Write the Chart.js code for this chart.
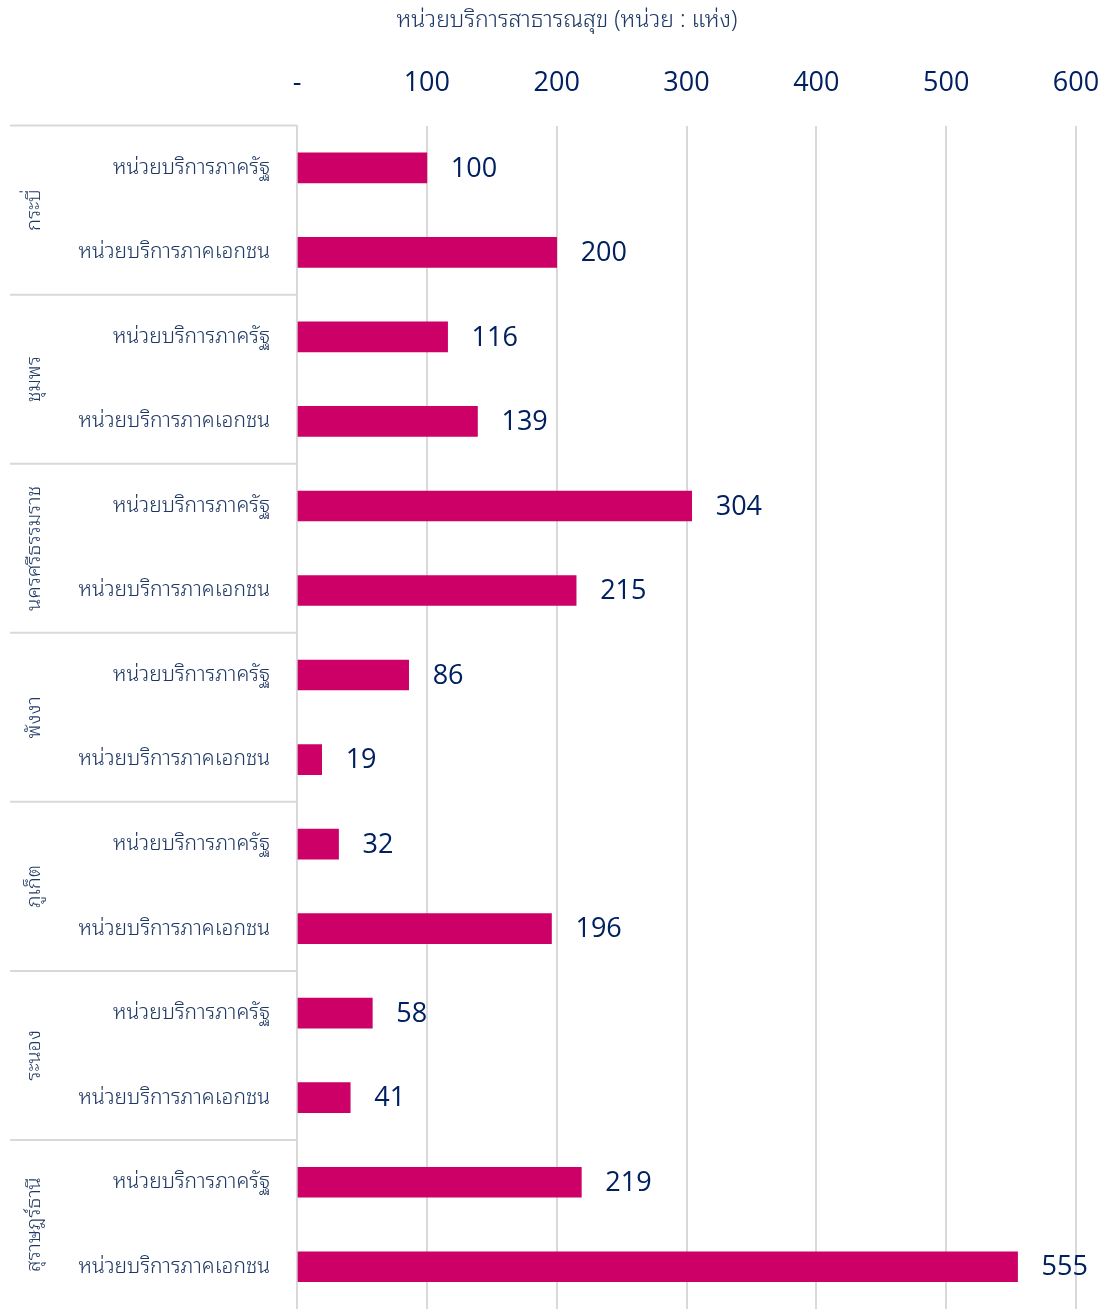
<!DOCTYPE html>
<html>
<head>
<meta charset="utf-8">
<script src="https://cdn.jsdelivr.net/npm/chart.js@4.4.0/dist/chart.umd.min.js"></script>
<style>
  html, body { margin: 0; padding: 0; background: #fff; }
  canvas { display: block; }
</style>
</head>
<body>
<canvas id="units_chart" width="1106" height="1309"></canvas>
<script>
const provinces = ['กระบี่', 'ชุมพร', 'นครศรีธรรมราช', 'พังงา', 'ภูเก็ต', 'ระนอง', 'สุราษฎร์ธานี'];
const unitTypes = ['หน่วยบริการภาครัฐ', 'หน่วยบริการภาคเอกชน'];
const govValues = [100, 116, 304, 86, 32, 58, 219];
const privValues = [200, 139, 215, 19, 196, 41, 555];
const xTicks = [0, 100, 200, 300, 400, 500, 600];

const navy = '#1f3864';
const thaiFont = "'Noto Sans Thai Looped', 'Noto Sans Thai', 'Noto Sans', sans-serif";
const numFont = "'Open Sans', sans-serif";

// flatten province x type into one list of rows
const labels = [];
const values = [];
provinces.forEach((p, i) => {
    labels.push(unitTypes[0]);
    values.push(govValues[i]);
    labels.push(unitTypes[1]);
    values.push(privValues[i]);
});

// value labels at bar ends
const valueLabels = {
    id: 'valueLabels',
    afterDatasetsDraw(chart) {
        const c = chart.ctx;
        const meta = chart.getDatasetMeta(0);
        c.save();
        c.font = '27px ' + numFont;
        c.fillStyle = '#002060';
        c.textAlign = 'left';
        c.textBaseline = 'middle';
        meta.data.forEach((bar, i) => {
            c.fillText(String(values[i]), bar.x + 24, bar.y + 1);
        });
        c.restore();
    }
};

// province group labels + separators on the left
const provinceGroups = {
    id: 'provinceGroups',
    afterDraw(chart) {
        const c = chart.ctx;
        const y = chart.scales.y;
        const left = chart.chartArea.left;
        c.save();
        c.strokeStyle = '#d9d9d9';
        c.lineWidth = 2;
        provinces.forEach((p, i) => {
            const top = (y.getPixelForValue(i * 2) + y.getPixelForValue(i * 2 - 1)) / 2;
            const bottom = (y.getPixelForValue(i * 2 + 1) + y.getPixelForValue(i * 2 + 2)) / 2;
            const yTop = i === 0 ? chart.chartArea.top : top;
            c.beginPath();
            c.moveTo(10, yTop);
            c.lineTo(left, yTop);
            c.stroke();

            c.save();
            c.translate(34, (yTop + bottom) / 2);
            c.rotate(-Math.PI / 2);
            c.font = '300 20px ' + thaiFont;
            c.fillStyle = navy;
            c.textAlign = 'center';
            c.textBaseline = 'middle';
            c.fillText(p, 0, 0);
            c.restore();
        });
        c.restore();
    }
};

const ctx = document.getElementById('units_chart').getContext('2d');

new Chart(ctx, {
    type: 'bar',
    data: {
        labels: labels,
        datasets: [{
            data: values,
            backgroundColor: '#cc0066',
            barThickness: 30
        }]
    },
    options: {
        indexAxis: 'y',
        responsive: false,
        animation: false,
        layout: {
            padding: { left: 58, right: 30, top: 0, bottom: 0 }
        },
        plugins: {
            legend: { display: false },
            tooltip: { enabled: false },
            title: {
                display: true,
                text: 'หน่วยบริการสาธารณสุข (หน่วย : แห่ง)',
                color: navy,
                font: { family: thaiFont, size: 23, weight: '300' },
                padding: { top: 7, bottom: 0 }
            }
        },
        scales: {
            x: {
                position: 'top',
                min: 0,
                max: 600,
                afterBuildTicks(scale) {
                    scale.ticks = xTicks.map(v => ({ value: v }));
                },
                afterFit(scale) {
                    scale.height = 91;
                    scale.paddingLeft = 0;
                    scale.paddingRight = 0;
                },
                ticks: {
                    padding: 26,
                    color: '#002060',
                    font: { family: numFont, size: 27 },
                    callback: v => v === 0 ? '-' : v
                },
                grid: {
                    color: '#d9d9d9',
                    lineWidth: 2,
                    drawTicks: false
                },
                border: { display: false }
            },
            y: {
                afterFit(scale) {
                    scale.width = 297 - 58;
                    scale.paddingTop = 0;
                    scale.paddingBottom = 0;
                },
                ticks: {
                    padding: 27,
                    color: navy,
                    font: { family: thaiFont, size: 21, weight: '300' }
                },
                grid: { display: false, drawTicks: false },
                border: { display: true, color: '#d9d9d9', width: 2 }
            }
        }
    },
    plugins: [valueLabels, provinceGroups]
});
</script>
</body>
</html>
